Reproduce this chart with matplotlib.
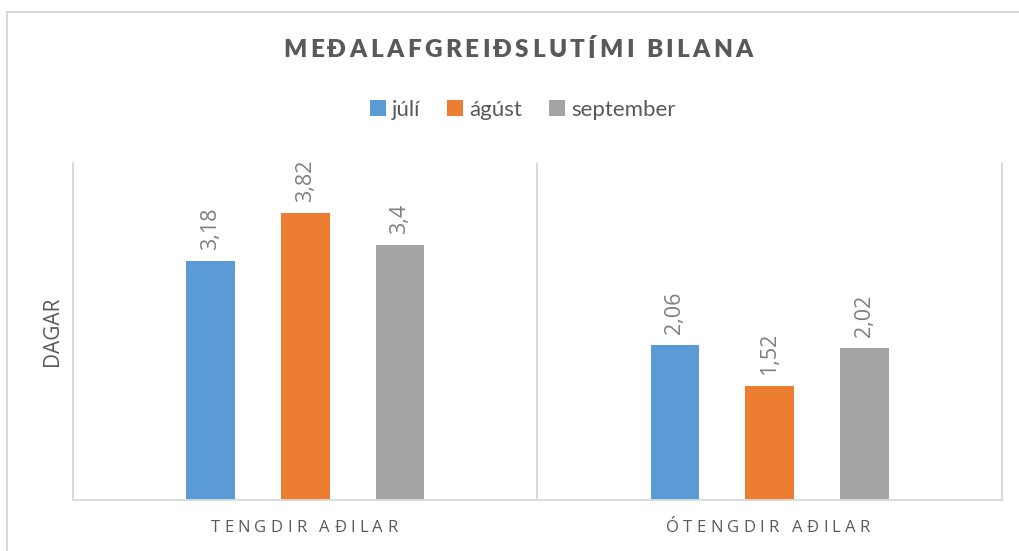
import matplotlib
matplotlib.use("Agg")
import matplotlib.pyplot as plt
import matplotlib.patches as mpatches
import numpy as np

# data
categories = ["TENGDIR AÐILAR", "ÓTENGDIR AÐILAR"]
series_names = ["júlí", "ágúst", "september"]
julí = [3.18, 2.06]
ágúst = [3.82, 1.52]
september = [3.4, 2.02]
values = [julí, ágúst, september]
colors = ["#5B9BD5", "#ED7D31", "#A5A5A5"]

TEXT = "#595959"
LINE = "#D9D9D9"
plt.rcParams['font.family'] = ['Lato', 'DejaVu Sans']

W, H = 1020, 551
fig = plt.figure(figsize=(W / 100, H / 100), dpi=100)
ax = fig.add_axes([73 / W, 1 - 500 / H, (1002 - 73) / W, (500 - 163) / H])

# outer chart border (light gray)
fig.patches.append(mpatches.Rectangle((7 / W, -0.1), 1.2, 1 - 12 / H + 0.1,
                                      transform=fig.transFigure, fill=False,
                                      edgecolor=LINE, linewidth=1.5))

x = np.arange(len(categories))
offset = 0.204
width = 0.105
for i, (name, vals, col) in enumerate(zip(series_names, values, colors)):
    pos = x + (i - 1) * offset
    ax.bar(pos, vals, width=width, color=col, label=name, zorder=2)
    for px, v in zip(pos, vals):
        ax.annotate(f"{v:g}".replace(".", ","), (px, v), xytext=(0, 8),
                    textcoords="offset points", rotation=90, ha="center",
                    va="bottom", color="#7F7F7F", fontsize=15.5,
                    family=['Open Sans', 'DejaVu Sans'])

ax.set_xlim(-0.5, 1.5)
ax.set_ylim(0, 4.49)
ax.axvline(0.5, color=LINE, linewidth=1.3, zorder=1)
for s in ["left", "right", "bottom"]:
    ax.spines[s].set_color(LINE)
    ax.spines[s].set_linewidth(1.3)
ax.spines["top"].set_visible(False)
ax.set_xticks([])
ax.set_yticks([])
ax.set_ylabel("DAGAR", color=TEXT, fontsize=15, labelpad=7,
              family=['Open Sans', 'DejaVu Sans'])

fig.canvas.draw()
renderer = fig.canvas.get_renderer()


def spaced_text(s, cx, cy, track, **kw):
    """place characters one by one to get letter spacing (pixel coords)"""
    texts = [fig.text(0, 0, c, transform=None, va="center", ha="left", **kw) for c in s]
    widths = [t.get_window_extent(renderer).width for t in texts]
    total = sum(widths) + track * (len(s) - 1)
    xx = cx - total / 2
    for t, w in zip(texts, widths):
        t.set_position((xx, H - cy))
        xx += w + track


spaced_text("MEÐALAFGREIÐSLUTÍMI BILANA", 518, 50, 3.4, fontsize=17.5,
            fontweight="heavy", color=TEXT)
for cat, cx in zip(categories, [304, 768]):
    spaced_text(cat, cx, 528, 4.3, fontsize=12, color=TEXT,
                family=['Open Sans', 'DejaVu Sans'])

fig.legend(loc="center", bbox_to_anchor=(523 / W, 1 - 110 / H), ncol=3,
           frameon=False, fontsize=16, handlelength=0.7, handleheight=0.7,
           handletextpad=0.3, columnspacing=1.2, labelcolor=TEXT)

fig.savefig("out.png", dpi=100)
